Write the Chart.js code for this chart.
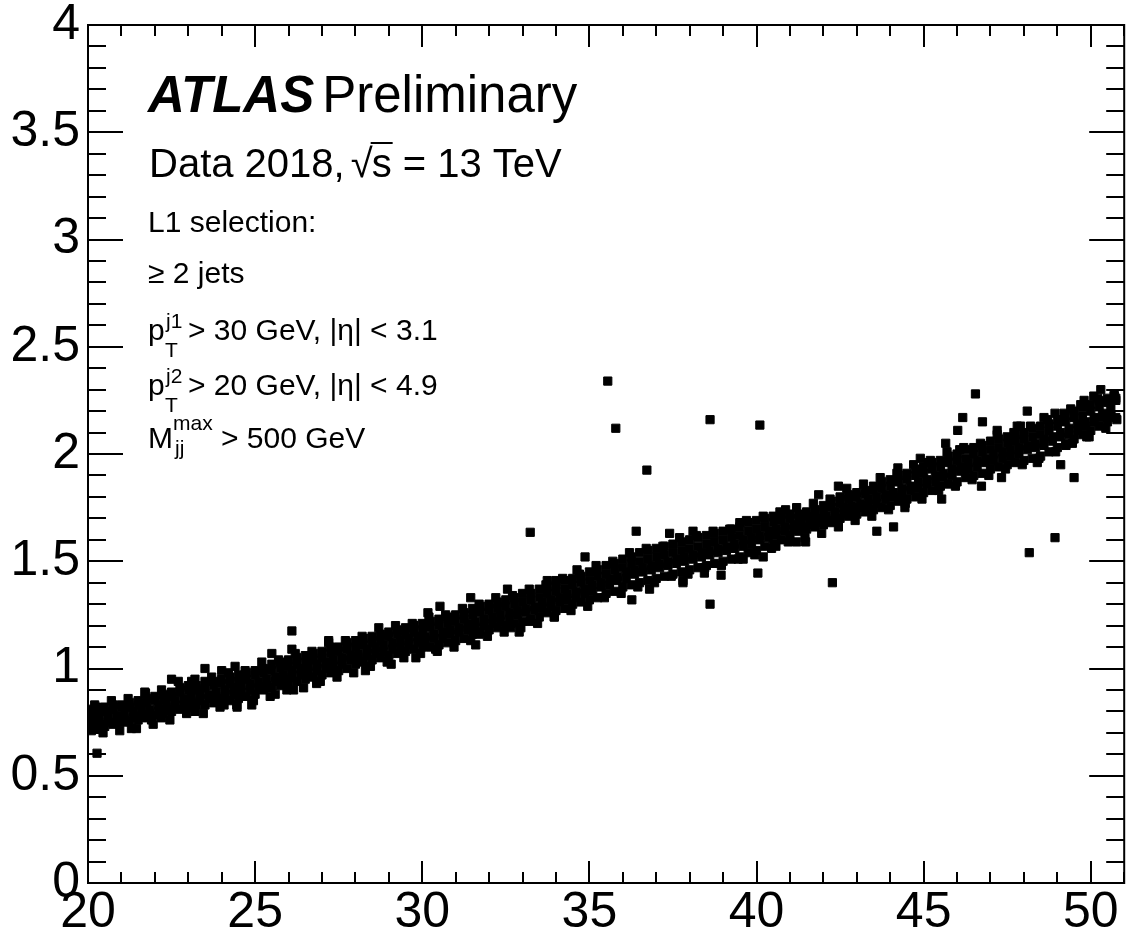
<!DOCTYPE html>
<html>
<head>
<meta charset="utf-8">
<title>L1 rate vs pileup</title>
<script src="https://cdn.jsdelivr.net/npm/chart.js@4.4.1/dist/chart.umd.min.js"></script>
<style>
    html, body { margin: 0; padding: 0; background: #fff; }
    #wrap { width: 1131px; height: 938px; }
</style>
</head>
<body>
<div id="wrap"><canvas id="rateChart" width="1131" height="938"></canvas></div>
<script>
// Axis ticks
const xTickValues = [20, 25, 30, 35, 40, 45, 50];
const yTickValues = [0, 0.5, 1, 1.5, 2, 2.5, 3, 3.5, 4];

// Main band, read as rows of points: three rows on bandX, two on bandMidX
const bandX = [20, 20.25, 20.5, 20.75, 21, 21.25, 21.5, 21.75, 22, 22.25,
    22.5, 22.75, 23, 23.25, 23.5, 23.75, 24, 24.25, 24.5, 24.75,
    25, 25.25, 25.5, 25.75, 26, 26.25, 26.5, 26.75, 27, 27.25,
    27.5, 27.75, 28, 28.25, 28.5, 28.75, 29, 29.25, 29.5, 29.75,
    30, 30.25, 30.5, 30.75, 31, 31.25, 31.5, 31.75, 32, 32.25,
    32.5, 32.75, 33, 33.25, 33.5, 33.75, 34, 34.25, 34.5, 34.75,
    35, 35.25, 35.5, 35.75, 36, 36.25, 36.5, 36.75, 37, 37.25,
    37.5, 37.75, 38, 38.25, 38.5, 38.75, 39, 39.25, 39.5, 39.75,
    40, 40.25, 40.5, 40.75, 41, 41.25, 41.5, 41.75, 42, 42.25,
    42.5, 42.75, 43, 43.25, 43.5, 43.75, 44, 44.25, 44.5, 44.75,
    45, 45.25, 45.5, 45.75, 46, 46.25, 46.5, 46.75, 47, 47.25,
    47.5, 47.75, 48, 48.25, 48.5, 48.75, 49, 49.25, 49.5, 49.75,
    50, 50.25, 50.5, 50.75];
const bandHigh = [0.81, 0.82, 0.82, 0.83, 0.83, 0.84, 0.85, 0.86, 0.87, 0.88,
    0.89, 0.91, 0.92, 0.92, 0.94, 0.94, 0.95, 0.96, 0.97, 0.98,
    0.99, 1.00, 1.02, 1.03, 1.04, 1.05, 1.06, 1.07, 1.08, 1.10,
    1.10, 1.12, 1.13, 1.14, 1.15, 1.16, 1.17, 1.18, 1.19, 1.20,
    1.21, 1.22, 1.23, 1.24, 1.25, 1.26, 1.28, 1.29, 1.30, 1.31,
    1.32, 1.33, 1.35, 1.35, 1.37, 1.38, 1.39, 1.41, 1.42, 1.43,
    1.45, 1.46, 1.48, 1.49, 1.51, 1.52, 1.54, 1.55, 1.56, 1.57,
    1.58, 1.59, 1.60, 1.61, 1.62, 1.63, 1.64, 1.65, 1.66, 1.68,
    1.69, 1.70, 1.71, 1.72, 1.72, 1.72, 1.73, 1.74, 1.76, 1.78,
    1.80, 1.81, 1.82, 1.83, 1.85, 1.87, 1.88, 1.90, 1.91, 1.93,
    1.94, 1.96, 1.97, 1.99, 2.00, 2.02, 2.03, 2.04, 2.06, 2.07,
    2.08, 2.09, 2.10, 2.12, 2.13, 2.14, 2.16, 2.18, 2.20, 2.22,
    2.23, 2.25, 2.26, 2.26];
const bandUpperMid = [0.79, 0.79, 0.80, 0.81, 0.82, 0.82, 0.83, 0.84, 0.85, 0.86,
    0.87, 0.89, 0.90, 0.90, 0.91, 0.92, 0.93, 0.93, 0.94, 0.95,
    0.97, 0.98, 0.99, 1.00, 1.01, 1.02, 1.03, 1.04, 1.05, 1.07,
    1.08, 1.09, 1.10, 1.11, 1.12, 1.13, 1.15, 1.16, 1.16, 1.17,
    1.18, 1.19, 1.20, 1.21, 1.22, 1.23, 1.25, 1.26, 1.27, 1.28,
    1.29, 1.30, 1.31, 1.32, 1.33, 1.35, 1.36, 1.37, 1.39, 1.40,
    1.41, 1.43, 1.44, 1.46, 1.47, 1.49, 1.50, 1.51, 1.52, 1.53,
    1.54, 1.55, 1.56, 1.57, 1.58, 1.59, 1.60, 1.61, 1.62, 1.64,
    1.65, 1.66, 1.68, 1.69, 1.70, 1.70, 1.71, 1.72, 1.73, 1.75,
    1.77, 1.79, 1.80, 1.81, 1.83, 1.84, 1.85, 1.87, 1.88, 1.90,
    1.91, 1.93, 1.94, 1.96, 1.97, 1.98, 2.00, 2.01, 2.02, 2.03,
    2.05, 2.06, 2.07, 2.08, 2.09, 2.11, 2.13, 2.15, 2.17, 2.18,
    2.20, 2.22, 2.24, 2.25];
const bandLow = [0.72, 0.72, 0.73, 0.74, 0.75, 0.75, 0.76, 0.77, 0.78, 0.79,
    0.80, 0.81, 0.82, 0.83, 0.83, 0.84, 0.85, 0.85, 0.86, 0.87,
    0.88, 0.90, 0.91, 0.92, 0.93, 0.94, 0.95, 0.96, 0.97, 0.98,
    0.99, 1.00, 1.02, 1.03, 1.04, 1.05, 1.06, 1.07, 1.08, 1.09,
    1.10, 1.10, 1.11, 1.12, 1.13, 1.14, 1.16, 1.17, 1.18, 1.19,
    1.20, 1.21, 1.22, 1.23, 1.24, 1.26, 1.27, 1.28, 1.30, 1.31,
    1.32, 1.33, 1.35, 1.36, 1.38, 1.39, 1.40, 1.41, 1.42, 1.43,
    1.44, 1.45, 1.46, 1.47, 1.48, 1.49, 1.50, 1.51, 1.52, 1.54,
    1.55, 1.57, 1.58, 1.60, 1.62, 1.64, 1.65, 1.66, 1.67, 1.68,
    1.70, 1.71, 1.72, 1.73, 1.74, 1.75, 1.76, 1.78, 1.79, 1.80,
    1.82, 1.83, 1.85, 1.86, 1.87, 1.89, 1.90, 1.91, 1.93, 1.94,
    1.95, 1.96, 1.97, 1.98, 1.99, 2.01, 2.03, 2.05, 2.07, 2.09,
    2.11, 2.13, 2.15, 2.17];
const bandMidX = [20.1, 20.35, 20.6, 20.85, 21.1, 21.35, 21.6, 21.85, 22.1, 22.35,
    22.6, 22.85, 23.1, 23.35, 23.6, 23.85, 24.1, 24.35, 24.6, 24.85,
    25.1, 25.35, 25.6, 25.85, 26.1, 26.35, 26.6, 26.85, 27.1, 27.35,
    27.6, 27.85, 28.1, 28.35, 28.6, 28.85, 29.1, 29.35, 29.6, 29.85,
    30.1, 30.35, 30.6, 30.85, 31.1, 31.35, 31.6, 31.85, 32.1, 32.35,
    32.6, 32.85, 33.1, 33.35, 33.6, 33.85, 34.1, 34.35, 34.6, 34.85,
    35.1, 35.35, 35.6, 35.85, 36.1, 36.35, 36.6, 36.85, 37.1, 37.35,
    37.6, 37.85, 38.1, 38.35, 38.6, 38.85, 39.1, 39.35, 39.6, 39.85,
    40.1, 40.35, 40.6, 40.85, 41.1, 41.35, 41.6, 41.85, 42.1, 42.35,
    42.6, 42.85, 43.1, 43.35, 43.6, 43.85, 44.1, 44.35, 44.6, 44.85,
    45.1, 45.35, 45.6, 45.85, 46.1, 46.35, 46.6, 46.85, 47.1, 47.35,
    47.6, 47.85, 48.1, 48.35, 48.6, 48.85, 49.1, 49.35, 49.6, 49.85,
    50.1, 50.35, 50.6];
const bandMid = [0.76, 0.77, 0.78, 0.78, 0.79, 0.80, 0.81, 0.81, 0.83, 0.84,
    0.85, 0.86, 0.87, 0.88, 0.88, 0.89, 0.90, 0.91, 0.92, 0.93,
    0.94, 0.95, 0.96, 0.97, 0.99, 1.00, 1.01, 1.02, 1.03, 1.04,
    1.05, 1.06, 1.07, 1.09, 1.10, 1.11, 1.12, 1.13, 1.14, 1.15,
    1.15, 1.16, 1.17, 1.18, 1.19, 1.21, 1.22, 1.23, 1.24, 1.25,
    1.26, 1.27, 1.28, 1.29, 1.31, 1.32, 1.33, 1.35, 1.36, 1.37,
    1.39, 1.40, 1.42, 1.43, 1.45, 1.46, 1.47, 1.48, 1.49, 1.50,
    1.51, 1.52, 1.53, 1.54, 1.55, 1.56, 1.57, 1.58, 1.60, 1.61,
    1.62, 1.64, 1.65, 1.66, 1.67, 1.68, 1.69, 1.70, 1.71, 1.73,
    1.75, 1.76, 1.77, 1.79, 1.80, 1.81, 1.82, 1.84, 1.85, 1.87,
    1.88, 1.90, 1.91, 1.93, 1.94, 1.96, 1.97, 1.98, 2.00, 2.01,
    2.02, 2.03, 2.04, 2.05, 2.07, 2.08, 2.10, 2.12, 2.14, 2.15,
    2.17, 2.19, 2.21];
const bandLowerMid = [0.73, 0.74, 0.75, 0.75, 0.76, 0.77, 0.78, 0.79, 0.80, 0.81,
    0.82, 0.83, 0.84, 0.85, 0.86, 0.86, 0.87, 0.88, 0.89, 0.90,
    0.91, 0.92, 0.94, 0.95, 0.96, 0.97, 0.98, 0.99, 1.00, 1.01,
    1.02, 1.04, 1.05, 1.06, 1.07, 1.08, 1.09, 1.10, 1.11, 1.12,
    1.13, 1.14, 1.14, 1.16, 1.17, 1.18, 1.19, 1.20, 1.21, 1.22,
    1.23, 1.25, 1.26, 1.27, 1.28, 1.29, 1.31, 1.32, 1.33, 1.35,
    1.36, 1.38, 1.39, 1.41, 1.42, 1.44, 1.45, 1.46, 1.47, 1.48,
    1.49, 1.50, 1.51, 1.52, 1.53, 1.54, 1.55, 1.56, 1.57, 1.58,
    1.60, 1.61, 1.62, 1.64, 1.65, 1.66, 1.67, 1.68, 1.69, 1.70,
    1.72, 1.74, 1.75, 1.76, 1.77, 1.79, 1.80, 1.81, 1.83, 1.84,
    1.86, 1.87, 1.89, 1.90, 1.92, 1.93, 1.94, 1.96, 1.97, 1.98,
    1.99, 2.00, 2.02, 2.03, 2.04, 2.06, 2.08, 2.09, 2.11, 2.13,
    2.15, 2.17, 2.18];

// Sparser points along the upper and lower edge of the band
const bandTopX = [20.2, 20.7, 21.2, 21.7, 22.2, 22.7, 23.2, 23.7, 24.2, 24.7,
    25.2, 25.7, 26.2, 26.7, 27.2, 27.7, 28.2, 28.7, 29.2, 29.7,
    30.2, 30.7, 31.2, 31.7, 32.2, 32.7, 33.2, 33.7, 34.2, 34.7,
    35.2, 35.7, 36.2, 36.7, 37.2, 37.7, 38.2, 38.7, 39.2, 39.7,
    40.2, 40.7, 41.2, 41.7, 42.2, 42.7, 43.2, 43.7, 44.2, 44.7,
    45.2, 45.7, 46.2, 46.7, 47.2, 47.7, 48.2, 48.7, 49.2, 49.7,
    50.2, 50.7];
const bandTop = [0.83, 0.85, 0.86, 0.89, 0.90, 0.94, 0.95, 0.96, 0.98, 0.99,
    1.03, 1.04, 1.07, 1.08, 1.12, 1.13, 1.15, 1.19, 1.20, 1.21,
    1.24, 1.25, 1.28, 1.30, 1.33, 1.34, 1.37, 1.39, 1.42, 1.44,
    1.48, 1.50, 1.54, 1.56, 1.57, 1.61, 1.62, 1.64, 1.65, 1.69,
    1.71, 1.73, 1.75, 1.77, 1.79, 1.84, 1.86, 1.89, 1.91, 1.95,
    1.97, 2.01, 2.03, 2.05, 2.09, 2.10, 2.13, 2.16, 2.19, 2.23,
    2.26, 2.28];
const bandBottomX = [20.45, 20.95, 21.45, 21.95, 22.45, 22.95, 23.45, 23.95, 24.45, 24.95,
    25.45, 25.95, 26.45, 26.95, 27.45, 27.95, 28.45, 28.95, 29.45, 29.95,
    30.45, 30.95, 31.45, 31.95, 32.45, 32.95, 33.45, 33.95, 34.45, 34.95,
    35.45, 35.95, 36.45, 36.95, 37.45, 37.95, 38.45, 38.95, 39.45, 39.95,
    40.45, 40.95, 41.45, 41.95, 42.45, 42.95, 43.45, 43.95, 44.45, 44.95,
    45.45, 45.95, 46.45, 46.95, 47.45, 47.95, 48.45, 48.95, 49.45, 49.95,
    50.45];
const bandBottom = [0.70, 0.71, 0.72, 0.74, 0.76, 0.79, 0.79, 0.82, 0.83, 0.85,
    0.87, 0.90, 0.91, 0.94, 0.96, 0.98, 1.01, 1.03, 1.05, 1.07,
    1.08, 1.10, 1.13, 1.15, 1.17, 1.19, 1.21, 1.24, 1.27, 1.29,
    1.33, 1.35, 1.38, 1.40, 1.43, 1.44, 1.47, 1.48, 1.51, 1.53,
    1.56, 1.59, 1.61, 1.63, 1.66, 1.69, 1.71, 1.74, 1.77, 1.79,
    1.83, 1.85, 1.88, 1.90, 1.93, 1.95, 1.98, 2.01, 2.05, 2.08,
    2.12];

// Stray points: outliers and the ragged edges of the band
const strayX = [20.27, 26.1, 33.23, 35.55, 35.79, 36.72, 38.61, 38.61, 40.1, 40.04,
    42.27, 46.55, 48.16, 48.93, 49.5, 26.1, 22.5, 23.5, 24.9, 27.2,
    30.53, 29.81, 34.87, 36.4, 36.27, 40.2, 43.6, 44.1, 45.66, 46.02,
    46.17, 46.76, 48.1, 48.93, 49.1, 50.7, 50.78, 20.05, 20.1, 20.2,
    20.35, 20.45, 21.9, 23.2, 25.6, 28.3, 31.6, 32.9, 34.0, 37.8,
    38.94, 38.44, 41.2, 44.9, 47.9, 49.8, 50.3,
    21.72, 23.1, 24.0, 24.4, 25.5, 21.3, 22.2, 24.07, 24.46, 26.15,
    26.84, 30.17, 31.45, 32.55, 33.74, 34.63, 29.07, 30.4, 31.7, 32.64,
    33.23, 33.95, 37.4, 38.1, 39.5, 40.87, 41.86, 42.45, 36.8, 37.8,
    39.6, 40.58, 41.47, 44.23, 45.13, 46.08, 47.2, 47.8, 48.6, 49.4,
    50.09, 42.95, 44.44, 45.54, 46.73, 47.33, 48.4, 49.26, 49.88];
const strayY = [0.605, 1.175, 1.635, 2.34, 2.12, 1.925, 2.16, 1.30, 2.135, 1.445,
    1.40, 2.28, 1.54, 1.61, 1.89, 1.09, 0.95, 1.00, 0.83, 1.13,
    1.29, 1.05, 1.52, 1.64, 1.32, 1.52, 1.64, 1.66, 2.05, 2.11,
    2.17, 2.15, 2.20, 2.19, 1.95, 2.27, 2.16, 0.80, 0.71, 0.79,
    0.72, 0.80, 0.76, 0.80, 0.88, 0.99, 1.11, 1.17, 1.41, 1.40,
    1.435, 1.445, 1.59, 1.98, 2.13, 2.25, 2.30,
    0.885, 0.94, 0.99, 1.01, 1.07, 0.72, 0.77, 0.83, 0.82, 0.90,
    0.93, 1.26, 1.33, 1.37, 1.41, 1.46, 1.02, 1.09, 1.16, 1.19,
    1.22, 1.24, 1.63, 1.64, 1.68, 1.74, 1.81, 1.85, 1.37, 1.41,
    1.51, 1.57, 1.59, 1.935, 1.96, 2.02, 2.11, 2.13, 2.17, 2.21,
    2.27, 1.75, 1.75, 1.79, 1.85, 1.89, 1.96, 2.04, 2.08];

const FONT = '"Liberation Sans", Arial, Helvetica, sans-serif';

// Build scatter points from the arrays
function toPoints(xs, ys) {
    return xs.map((x, i) => ({ x: x, y: ys[i] }));
}

const allPoints = [].concat(
    toPoints(bandX, bandHigh),
    toPoints(bandX, bandUpperMid),
    toPoints(bandX, bandLow),
    toPoints(bandMidX, bandMid),
    toPoints(bandMidX, bandLowerMid),
    toPoints(bandTopX, bandTop),
    toPoints(bandBottomX, bandBottom),
    toPoints(strayX, strayY)
);

// Frame and inward ticks on all four sides, ROOT style
const frameTicks = {
    id: 'frameTicks',
    afterDatasetsDraw(chart) {
        const ctx = chart.ctx;
        const area = chart.chartArea;
        const xs = chart.scales.x;
        const ys = chart.scales.y;
        ctx.save();
        ctx.strokeStyle = '#000';
        ctx.lineWidth = 2;
        ctx.beginPath();
        for (let v = 21; v <= 51; v++) {
            const px = Math.round(xs.getPixelForValue(v));
            const len = v % 5 === 0 ? 22 : 11;
            ctx.moveTo(px, area.bottom); ctx.lineTo(px, area.bottom - len);
            ctx.moveTo(px, area.top); ctx.lineTo(px, area.top + len);
        }
        for (let i = 1; i < 40; i++) {
            const py = Math.round(ys.getPixelForValue(i / 10));
            const len = i % 5 === 0 ? 35 : 18;
            ctx.moveTo(area.left, py); ctx.lineTo(area.left + len, py);
            ctx.moveTo(area.right, py); ctx.lineTo(area.right - len, py);
        }
        ctx.stroke();
        ctx.strokeRect(area.left, area.top, area.right - area.left, area.bottom - area.top);
        ctx.restore();
    }
};

// ATLAS label and selection text
const atlasText = {
    id: 'atlasText',
    afterDraw(chart) {
        const ctx = chart.ctx;
        ctx.save();
        ctx.fillStyle = '#000';
        ctx.strokeStyle = '#000';
        ctx.textAlign = 'left';
        ctx.textBaseline = 'alphabetic';

        ctx.font = 'italic bold 51px ' + FONT;
        ctx.fillText('ATLAS', 148, 112);
        const w = ctx.measureText('ATLAS').width;
        ctx.font = '51px ' + FONT;
        ctx.fillText('Preliminary', 148 + w + 8, 112);

        ctx.font = '40px ' + FONT;
        let x = 149;
        ctx.fillText('Data 2018,', x, 177);
        x += ctx.measureText('Data 2018,').width + 6;
        ctx.fillText('\u221A', x, 177);
        x += ctx.measureText('\u221A').width - 1;
        ctx.fillText('s', x, 177);
        const sw = ctx.measureText('s').width;
        ctx.lineWidth = 2;
        ctx.beginPath();
        ctx.moveTo(x - 1, 143);
        ctx.lineTo(x + sw + 1, 143);
        ctx.stroke();
        x += sw;
        ctx.fillText(' = 13 TeV', x, 177);

        ctx.font = '30px ' + FONT;
        ctx.fillText('L1 selection:', 148, 232);
        ctx.fillText('\u2265 2 jets', 148, 283);

        ctx.fillText('p', 148, 340);
        ctx.fillText('> 30 GeV, |\u03B7| < 3.1', 188, 340);
        ctx.fillText('p', 148, 395);
        ctx.fillText('> 20 GeV, |\u03B7| < 4.9', 188, 395);
        ctx.fillText('M', 148, 448);
        ctx.fillText('> 500 GeV', 221, 448);

        ctx.font = '21px ' + FONT;
        ctx.fillText('j1', 166, 328);
        ctx.fillText('T', 165, 357);
        ctx.fillText('j2', 166, 383);
        ctx.fillText('T', 165, 412);
        ctx.fillText('max', 173, 430);
        ctx.fillText('jj', 175, 455);
        ctx.restore();
    }
};

document.addEventListener('DOMContentLoaded', function() {
    const ctx = document.getElementById('rateChart');
    new Chart(ctx, {
        type: 'scatter',
        data: {
            datasets: [{
                data: allPoints,
                pointStyle: 'rect',
                pointRadius: 5.8,
                pointHoverRadius: 5.8,
                borderWidth: 1,
                borderColor: '#000',
                backgroundColor: '#000'
            }]
        },
        options: {
            responsive: false,
            animation: false,
            devicePixelRatio: 1,
            layout: { padding: { top: 25, right: 2, left: 0, bottom: 0 } },
            plugins: {
                legend: { display: false },
                tooltip: { enabled: false }
            },
            scales: {
                x: {
                    type: 'linear',
                    min: 20,
                    max: 51,
                    grid: { display: false, drawTicks: false },
                    border: { display: false },
                    afterBuildTicks: s => { s.ticks = xTickValues.map(v => ({ value: v })); },
                    afterFit: s => {
                        s.height = 55;
                        s.paddingLeft = 0; s.paddingRight = 0;
                        s.paddingTop = 0; s.paddingBottom = 0;
                    },
                    ticks: {
                        autoSkip: false,
                        maxRotation: 0,
                        padding: 0,
                        color: '#000',
                        font: { family: FONT, size: 50 },
                        callback: v => String(v)
                    }
                },
                y: {
                    type: 'linear',
                    min: 0,
                    max: 4,
                    grid: { display: false, drawTicks: false },
                    border: { display: false },
                    afterBuildTicks: s => { s.ticks = yTickValues.map(v => ({ value: v })); },
                    afterFit: s => {
                        s.width = 88;
                        s.paddingLeft = 0; s.paddingRight = 0;
                        s.paddingTop = 0; s.paddingBottom = 0;
                    },
                    ticks: {
                        autoSkip: false,
                        padding: 8,
                        color: '#000',
                        font: { family: FONT, size: 50 },
                        callback: v => String(v)
                    }
                }
            }
        },
        plugins: [frameTicks, atlasText]
    });
});
</script>
</body>
</html>
